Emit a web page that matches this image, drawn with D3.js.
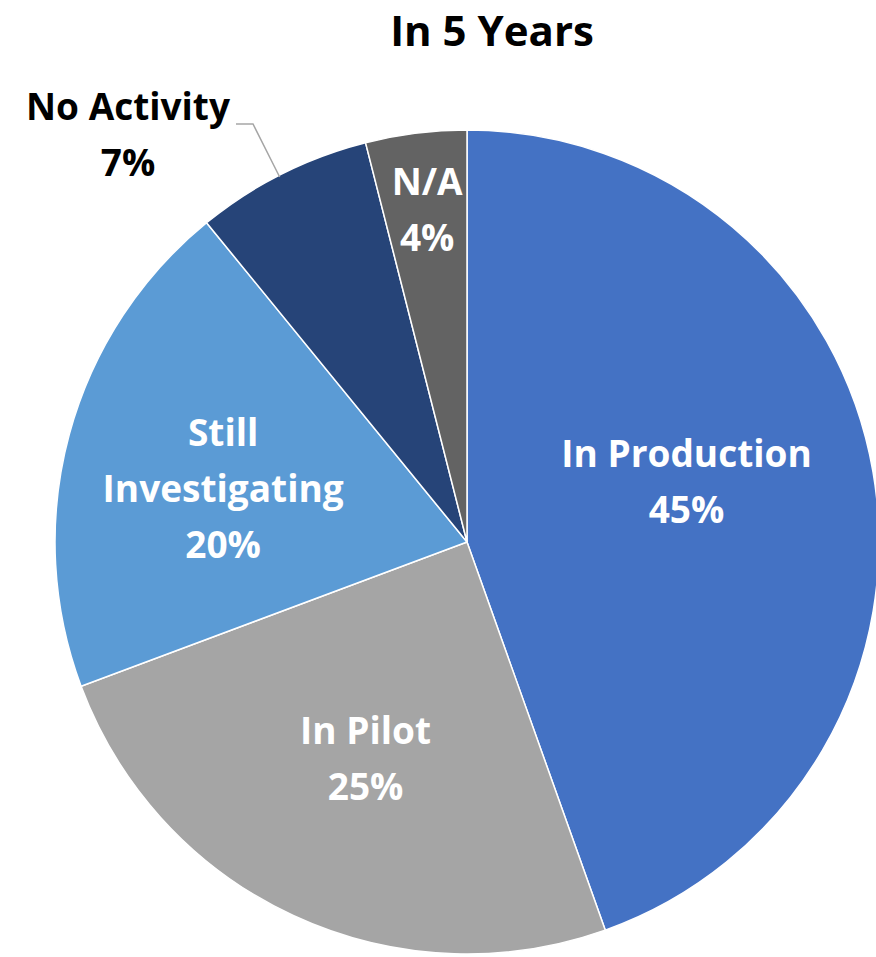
<!DOCTYPE html>
<html>
<head>
<meta charset="utf-8">
<script src="https://cdn.jsdelivr.net/npm/d3@7"></script>
<style>
  html, body { margin: 0; padding: 0; background: #fff; }
  svg { display: block; }
  text { font-family: "Open Sans", Lato, sans-serif; font-weight: 700; }
</style>
</head>
<body>
<svg id="chart" width="876" height="957"></svg>
<script>
// Share of respondents by stage, five years out (percent)
const categories = ["In Production", "In Pilot", "Still Investigating", "No Activity", "N/A"];
const values = [45, 25, 20, 7, 4];
const colors = ["#4472C4", "#A5A5A5", "#5B9BD5", "#264478", "#636363"];
// Label text lines for each slice
const labelLines = [["In Production"], ["In Pilot"], ["Still", "Investigating"], ["No Activity"], ["N/A"]];
// Radial placement of inside labels (fraction of radius) and angular nudge (radians)
const labelRadius = [0.545, 0.61, 0.60, null, 0.78];
const labelNudge = [-0.04, -0.02, -0.10, 0, 0];

const width = 876, height = 957;
const cx = 467, cy = 542, R = 412;
const fontSize = 37, lineH = 56;

const svg = d3.select("#chart");

svg.append("text")
  .attr("x", 492).attr("y", 46)
  .attr("text-anchor", "middle")
  .attr("font-size", 42)
  .attr("fill", "#000")
  .text("In 5 Years");

const pie = d3.pie().sort(null).value(d => d)(values);
const arc = d3.arc().innerRadius(0).outerRadius(R);

const g = svg.append("g").attr("transform", `translate(${cx},${cy})`);

g.selectAll("path.slice")
  .data(pie)
  .join("path")
  .attr("class", "slice")
  .attr("d", arc)
  .attr("fill", (d, i) => colors[i])
  .attr("stroke", "#fff")
  .attr("stroke-width", 1.5)
  .attr("stroke-linejoin", "round");

// Inside labels
pie.forEach((d, i) => {
  if (labelRadius[i] === null) return;
  const a = (d.startAngle + d.endAngle) / 2 + labelNudge[i];
  const r = R * labelRadius[i];
  const x = Math.sin(a) * r, y = -Math.cos(a) * r;
  const lines = labelLines[i].concat([values[i] + "%"]);
  const t = g.append("text")
    .attr("text-anchor", "middle")
    .attr("font-size", fontSize)
    .attr("fill", "#fff");
  const top = y - (lines.length - 1) * lineH / 2;
  lines.forEach((s, k) => {
    t.append("tspan")
      .attr("x", x)
      .attr("y", top + k * lineH)
      .text(s);
  });
});

// Outside label for the small "No Activity" slice, with a leader line
{
  const i = 3, d = pie[i];
  const a = (d.startAngle + d.endAngle) / 2;
  const ex = Math.sin(a) * R, ey = -Math.cos(a) * R;
  const lx = 128 - cx, ly = 148 - cy;
  g.append("polyline")
    .attr("points", [[ex - 2, ey + 3], [253 - cx, 124 - cy], [236 - cx, 124 - cy]].map(p => p.join(",")).join(" "))
    .attr("fill", "none")
    .attr("stroke", "#A6A6A6")
    .attr("stroke-width", 1.5);
  const t = g.append("text")
    .attr("text-anchor", "middle")
    .attr("font-size", fontSize)
    .attr("fill", "#000");
  [labelLines[i][0], values[i] + "%"].forEach((s, k) => {
    t.append("tspan")
      .attr("x", lx)
      .attr("y", ly - lineH / 2 + k * lineH)
      .text(s);
  });
}
</script>
</body>
</html>
